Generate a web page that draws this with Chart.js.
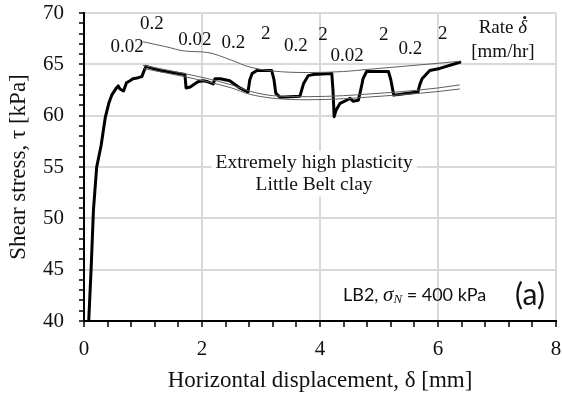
<!DOCTYPE html>
<html>
<head>
<meta charset="utf-8">
<script src="https://cdn.jsdelivr.net/npm/chart.js@4.4.0/dist/chart.umd.min.js"></script>
<style>
html, body { margin: 0; padding: 0; background: #fff; }
#wrap { width: 562px; height: 397px; }
</style>
</head>
<body>
<div id="wrap"><canvas id="shearChart" width="562" height="397"></canvas></div>
<script>
// ========== DATA ==========
// LB2 test, shear stress vs horizontal displacement
const displacement = [0.08, 0.10, 0.12, 0.16, 0.215, 0.29, 0.36, 0.42, 0.47, 0.55, 0.58, 0.61, 0.67, 0.72, 0.78, 0.83, 0.92, 0.98, 1.02, 1.05,
    1.29, 1.50, 1.71, 1.73, 1.80, 1.93, 2.02, 2.10, 2.19, 2.22, 2.31, 2.47, 2.64, 2.78, 2.81, 2.85, 2.93, 3.18, 3.22, 3.25,
    3.32, 3.66, 3.69, 3.72, 3.80, 3.88, 4.20, 4.22, 4.24, 4.27, 4.34, 4.45, 4.51, 4.56, 4.65, 4.69, 4.73, 4.79, 5.16, 5.20,
    5.25, 5.53, 5.66, 5.69, 5.73, 5.86, 6.03, 6.37];
const shearStress = [40.0, 42.5, 45.0, 50.8, 55.0, 57.1, 59.8, 61.2, 62.0, 62.7, 62.9, 62.6, 62.4, 63.2, 63.4, 63.6, 63.7, 63.8, 64.4, 64.8,
    64.4, 64.2, 64.0, 62.7, 62.8, 63.3, 63.4, 63.3, 63.1, 63.6, 63.6, 63.4, 62.7, 62.3, 63.5, 64.1, 64.4, 64.4, 63.5, 62.2,
    61.8, 61.9, 62.5, 63.1, 63.9, 64.0, 64.1, 62.5, 59.9, 60.5, 61.2, 61.5, 61.7, 61.4, 61.5, 62.5, 63.6, 64.3, 64.3, 63.5,
    62.0, 62.2, 62.3, 63.0, 63.6, 64.4, 64.6, 65.2];

// rate envelopes (thin lines)
const envelopeX = [1.0, 1.4, 1.7, 2.1, 2.5, 2.8, 3.2, 3.8, 4.4, 4.8, 5.4, 6.0, 6.37];
const envelopeUpper = [67.2, 66.7, 66.3, 66.15, 65.4, 64.75, 64.35, 64.2, 64.3, 64.5, 64.8, 65.1, 65.3];
const envelopeMiddle = [64.9, 64.45, 64.1, 63.6, 63.0, 62.4, 61.95, 61.85, 61.95, 62.1, 62.35, 62.7, 63.0];
const envelopeLower = [64.6, 64.15, 63.8, 63.3, 62.7, 62.1, 61.7, 61.55, 61.65, 61.8, 62.05, 62.35, 62.6];

// rate labels [mm/hr] and where they sit (data units)
const rateLabels = ['0.02', '0.2', '0.02', '0.2', '2', '0.2', '2', '0.02', '2', '0.2', '2'];
const rateLabelX = [0.73, 1.15, 1.88, 2.53, 3.08, 3.59, 4.05, 4.46, 5.08, 5.53, 6.08];
const rateLabelY = [66.7, 68.9, 67.4, 67.1, 68.0, 66.8, 67.9, 65.8, 67.9, 66.5, 68.0];

const xTicks = [0, 2, 4, 6, 8];
const yTicks = [40, 45, 50, 55, 60, 65, 70];

const toPoints = (xs, ys) => xs.map((x, i) => ({ x: x, y: ys[i] }));
const isMajor = (v, list) => list.some(t => Math.abs(t - v) < 1e-6);

const SERIF = '"Liberation Serif", "Times New Roman", serif';
const SANS = 'Lato, "Open Sans", sans-serif';

// ========== TEXT HELPERS ==========
function drawRuns(ctx, runs, x, y, align) {
    let total = 0;
    runs.forEach(r => { ctx.font = r.font; r.w = ctx.measureText(r.t).width; total += r.w; });
    let cx = align === 'center' ? x - total / 2 : (align === 'right' ? x - total : x);
    ctx.textAlign = 'left';
    ctx.textBaseline = 'middle';
    runs.forEach(r => {
        ctx.font = r.font;
        r.x = cx;
        ctx.fillText(r.t, cx, y + (r.dy || 0));
        cx += r.w;
    });
    return runs;
}

const annotations = {
    id: 'annotations',
    afterDatasetsDraw(chart) {
        const ctx = chart.ctx;
        const xs = chart.scales.x, ys = chart.scales.y;
        ctx.save();
        ctx.fillStyle = '#111';

        // rate labels
        ctx.font = '19px ' + SERIF;
        ctx.textAlign = 'center';
        ctx.textBaseline = 'middle';
        rateLabels.forEach((t, i) => {
            ctx.fillText(t, xs.getPixelForValue(rateLabelX[i]), ys.getPixelForValue(rateLabelY[i]));
        });

        // legend for rate, delta with a dot on top
        const rx = xs.getPixelForValue(7.1);
        const ry = ys.getPixelForValue(68.5);
        const runs = drawRuns(ctx, [
            { t: 'Rate ', font: '19px ' + SERIF },
            { t: '\u03B4', font: 'italic 19px ' + SERIF }
        ], rx, ry, 'center');
        const d = runs[1];
        ctx.beginPath();
        ctx.arc(d.x + d.w / 2 + 2, ry - 11, 1.5, 0, Math.PI * 2);
        ctx.fill();
        ctx.font = '19px ' + SERIF;
        ctx.textAlign = 'center';
        ctx.fillText('[mm/hr]', rx, ys.getPixelForValue(66.2));

        // material description with white box
        const mx = xs.getPixelForValue(3.9);
        const my1 = ys.getPixelForValue(55.4), my2 = ys.getPixelForValue(53.3);
        ctx.font = '19.5px ' + SERIF;
        const w1 = ctx.measureText('Extremely high plasticity').width;
        const w2 = ctx.measureText('Little Belt clay').width;
        ctx.fillStyle = '#fff';
        ctx.fillRect(mx - w1 / 2 - 4, my1 - 12, w1 + 8, 24);
        ctx.fillRect(mx - w2 / 2 - 4, my2 - 12, w2 + 8, 24);
        ctx.fillStyle = '#111';
        ctx.fillText('Extremely high plasticity', mx, my1);
        ctx.fillText('Little Belt clay', mx, my2);

        // test id
        const ly = ys.getPixelForValue(42.5);
        drawRuns(ctx, [
            { t: 'LB2, ', font: '18px ' + SANS },
            { t: '\u03C3', font: 'italic 21px ' + SERIF },
            { t: 'N', font: 'italic 13px ' + SERIF, dy: 4 },
            { t: ' = 400 kPa', font: '18px ' + SANS }
        ], xs.getPixelForValue(4.39), ly, 'left');
        ctx.font = '30px ' + SANS;
        ctx.textAlign = 'center';
        ctx.fillText('(a)', xs.getPixelForValue(7.56), ly);
        ctx.restore();
    }
};

// ========== CHART ==========
const ctx = document.getElementById('shearChart').getContext('2d');
const thin = { borderColor: '#5e5e5e', borderWidth: 1, pointRadius: 0, showLine: true, tension: 0.4, cubicInterpolationMode: 'monotone', fill: false };

const shearChart = new Chart(ctx, {
    type: 'scatter',
    data: {
        datasets: [
            { label: 'upper', data: toPoints(envelopeX, envelopeUpper), ...thin },
            { label: 'middle', data: toPoints(envelopeX, envelopeMiddle), ...thin },
            { label: 'lower', data: toPoints(envelopeX, envelopeLower), ...thin },
            {
                label: 'LB2',
                data: toPoints(displacement, shearStress),
                borderColor: '#000',
                borderWidth: 3,
                pointRadius: 0,
                showLine: true,
                tension: 0,
                borderJoinStyle: 'round',
                borderCapStyle: 'round',
                fill: false
            }
        ]
    },
    options: {
        responsive: false,
        animation: false,
        devicePixelRatio: 1,
        layout: { padding: { top: 13, right: 6, left: 0, bottom: 0 } },
        plugins: {
            legend: { display: false },
            tooltip: { enabled: false }
        },
        scales: {
            x: {
                type: 'linear',
                min: 0,
                max: 8,
                afterFit: s => { s.height = 76; s.paddingLeft = 0; s.paddingRight = 0; },
                border: { color: '#000', width: 2 },
                grid: {
                    color: c => (c.tick && isMajor(c.tick.value, xTicks) ? '#d9d9d9' : 'rgba(0,0,0,0)'),
                    lineWidth: 2,
                    tickColor: '#000',
                    tickLength: 6,
                    tickWidth: 1.5
                },
                ticks: {
                    stepSize: 0.4,
                    autoSkip: false,
                    maxRotation: 0,
                    padding: 10,
                    color: '#111',
                    font: { family: SERIF, size: 21 },
                    callback: v => (isMajor(v, xTicks) ? String(Math.round(v)) : '')
                },
                title: {
                    display: true,
                    text: 'Horizontal displacement, \u03B4 [mm]',
                    color: '#111',
                    font: { family: SERIF, size: 23 },
                    padding: { top: 0, bottom: 2 }
                }
            },
            y: {
                type: 'linear',
                min: 40,
                max: 70,
                afterFit: s => { s.width = 84; s.paddingTop = 0; s.paddingBottom = 0; },
                border: { color: '#000', width: 2 },
                grid: {
                    color: c => (c.tick && isMajor(c.tick.value, yTicks) ? '#d9d9d9' : 'rgba(0,0,0,0)'),
                    lineWidth: 2,
                    tickColor: '#000',
                    tickLength: 5,
                    tickWidth: 1.5
                },
                ticks: {
                    stepSize: 1,
                    autoSkip: false,
                    padding: 15,
                    color: '#111',
                    font: { family: SERIF, size: 21 },
                    callback: v => (isMajor(v, yTicks) ? String(v) : '')
                },
                title: {
                    display: true,
                    text: 'Shear stress, \u03C4 [kPa]',
                    color: '#111',
                    font: { family: SERIF, size: 23 },
                    padding: { top: 5, bottom: 0 }
                }
            }
        }
    },
    plugins: [annotations]
});
</script>
</body>
</html>
